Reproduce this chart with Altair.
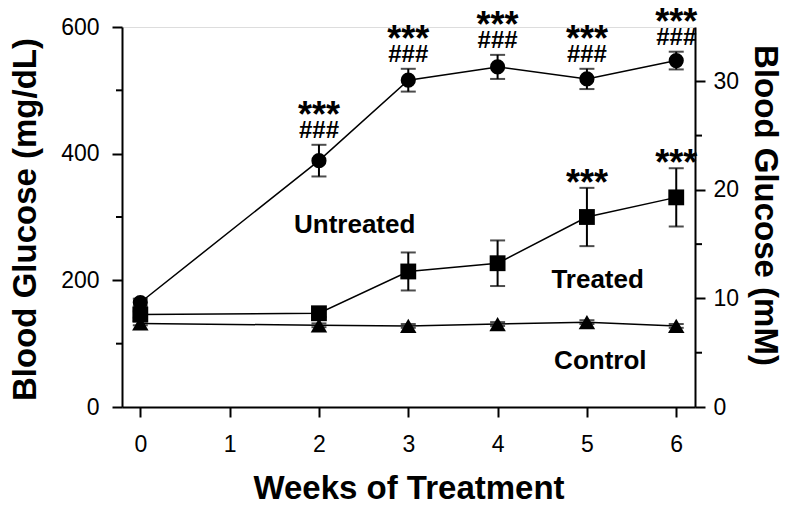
import altair as alt
import pandas as pd

# ---- data ----
weeks = [0, 2, 3, 4, 5, 6]
untreated_mean = [165, 389, 516, 537, 518, 547]
untreated_sem = [6, 25, 18, 19, 16, 14]
treated_mean = [146, 148, 214, 227, 300, 331]
treated_sem = [5, 6, 30, 36, 46, 46]
control_mean = [132, 129, 128, 131, 134, 128]
control_sem = [3, 3, 3, 3, 3, 3]

untreated_star = ["", "***", "***", "***", "***", "***"]
untreated_hash = ["", "###", "###", "###", "###", "###"]
treated_star = ["", "", "", "", "***", "***"]
control_star = ["", "", "", "", "", ""]

groups = ["Untreated", "Treated", "Control"]
group_labels = ["Untreated", "Treated", "Control"]
label_week = [2.4, 5.12, 5.15]
label_glucose = [288, 201, 72]

x_ticks = [0, 1, 2, 3, 4, 5, 6]
left_ticks = [0, 200, 400, 600]
left_minor = [100, 300, 500]
right_ticks = [0, 10, 20, 30]
right_minor = [5, 15, 25]

rows = []
for g, m, s, st, hs in [
    ("Untreated", untreated_mean, untreated_sem, untreated_star, untreated_hash),
    ("Treated", treated_mean, treated_sem, treated_star, [""] * 6),
    ("Control", control_mean, control_sem, control_star, [""] * 6),
]:
    for w, mv, sv, a, b in zip(weeks, m, s, st, hs):
        rows.append({"week": w, "group": g, "mean": mv, "lo": mv - sv,
                     "hi": mv + sv, "star": a, "hash": b})
df = pd.DataFrame(rows)
labels_df = pd.DataFrame({"text": group_labels, "week": label_week, "glucose": label_glucose})
minor_l_df = pd.DataFrame({"v": left_minor})
minor_r_df = pd.DataFrame({"v": right_minor})

FONT = "Liberation Sans"
W, H = 573, 380

xscale = alt.Scale(domain=[-0.205, 6.21], nice=False, zero=False)
yscale = alt.Scale(domain=[0, 600], nice=False, zero=False)
rscale = alt.Scale(domain=[0, 35], nice=False, zero=False)

xaxis = alt.Axis(values=x_ticks, tickSize=10, tickWidth=2, domainWidth=2,
                 domainColor="black", tickColor="black", labelColor="black",
                 labelFontSize=23, labelPadding=16, labelFlush=False, grid=False,
                 title="Weeks of Treatment", titleFontSize=33, titleFontWeight="bold",
                 titleColor="black", titleBaseline="alphabetic", titleY=91,
                 titleAlign="center", titleX=W / 2)
yaxis = alt.Axis(values=left_ticks, tickSize=10, tickWidth=2, domainWidth=2,
                 domainColor="black", tickColor="black", labelColor="black",
                 labelFontSize=23, labelPadding=13, grid=False, orient="left",
                 title="Blood Glucose (mg/dL)", titleFontSize=33, titleFontWeight="bold",
                 titleColor="black", titleAngle=270, titleAlign="center",
                 titleBaseline="middle", titleX=-97, titleY=H / 2 + 2)
raxis = alt.Axis(values=right_ticks, tickSize=10, tickWidth=2, domainWidth=2,
                 domainColor="black", tickColor="black", labelColor="black",
                 labelFontSize=23, labelPadding=8, grid=False, orient="right",
                 title="Blood Glucose (mM)", titleFontSize=33, titleFontWeight="bold",
                 titleColor="black", titleAngle=90, titleAlign="center",
                 titleBaseline="middle", titleX=69, titleY=H / 2 - 12)


def X(f="week"):
    return alt.X(f, type="quantitative", scale=xscale, axis=xaxis, title="Weeks of Treatment")


def Y(f):
    return alt.Y(f, type="quantitative", scale=yscale, axis=yaxis, title="Blood Glucose (mg/dL)")


base = alt.Chart(df)

lines = base.mark_line(color="black", strokeWidth=1.5).encode(
    x=X(), y=Y("mean"), detail="group:N")
err = base.mark_rule(color="black", strokeWidth=2).encode(
    x=X(), y=Y("lo"), y2="hi")
cap_hi = base.mark_tick(color="black", orient="horizontal", size=15, thickness=2).encode(
    x=X(), y=Y("hi"))
cap_lo = base.mark_tick(color="black", orient="horizontal", size=15, thickness=2).encode(
    x=X(), y=Y("lo"))
pts = base.mark_point(filled=True, opacity=1, color="black", strokeWidth=0).encode(
    x=X(), y=Y("mean"),
    shape=alt.Shape("group:N", scale=alt.Scale(domain=groups, range=["circle", "square", "triangle-up"]), legend=None),
    size=alt.Size("group:N", scale=alt.Scale(domain=groups, range=[230, 272, 290]), legend=None))

star_u = base.transform_filter("datum.group == 'Untreated' && datum.star != ''").mark_text(
    font=FONT, fontSize=36, fontWeight="bold", color="black", baseline="middle", dy=-29).encode(
    x=X(), y=Y("hi"), text="star:N")
hash_u = base.transform_filter("datum.group == 'Untreated' && datum.hash != ''").mark_text(
    font=FONT, fontSize=24, fontWeight="bold", color="black", baseline="middle", dy=-14).encode(
    x=X(), y=Y("hi"), text="hash:N")
star_t = base.transform_filter("datum.group == 'Treated' && datum.star != ''").mark_text(
    font=FONT, fontSize=36, fontWeight="bold", color="black", baseline="middle", dy=-4).encode(
    x=X(), y=Y("hi"), text="star:N")

glabels = alt.Chart(labels_df).mark_text(
    font=FONT, fontSize=26, fontWeight="bold", color="black", baseline="middle", align="center").encode(
    x=X(), y=Y("glucose"), text="text:N")

minor_l = alt.Chart(minor_l_df).mark_rule(color="black", strokeWidth=2).encode(
    y=Y("v"), x=alt.value(-6), x2=alt.value(0))

left = alt.layer(lines, err, cap_hi, cap_lo, pts, star_u, hash_u, star_t, glabels, minor_l)

right = alt.Chart(minor_r_df).mark_rule(color="black", strokeWidth=2).encode(
    y=alt.Y("v", type="quantitative", scale=rscale, axis=raxis, title="Blood Glucose (mM)"),
    x=alt.value(W), x2=alt.value(W + 7))

chart = alt.layer(left, right).resolve_scale(y="independent").properties(
    width=W, height=H,
    autosize=alt.AutoSizeParams(type="none"),
    padding={"left": 114, "top": 19, "right": 88, "bottom": 95},
).configure_view(stroke=None).configure(font=FONT)

chart.save("out.html", embed_options={"renderer": "svg", "actions": False})
